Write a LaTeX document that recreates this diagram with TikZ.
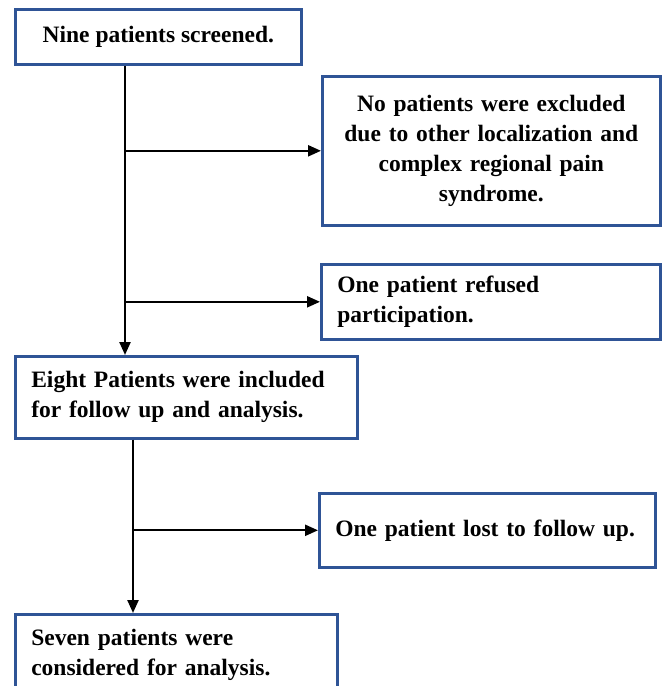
\documentclass[tikz,border=0pt]{standalone}
\usepackage{fontspec}
\setmainfont{Liberation Serif}
\usetikzlibrary{arrows.meta,positioning}
\definecolor{boxblue}{RGB}{47,84,150}

\begin{document}
\begin{tikzpicture}[x=1pt,y=-1pt,
  box/.style={draw=boxblue, line width=2.6pt, fill=white, inner xsep=16pt, inner ysep=4pt,
    font=\fontsize{23.5}{30}\selectfont\bfseries, anchor=north west},
  arr/.style={-{Triangle[length=13pt,width=11pt]}, line width=2.3pt}]
\useasboundingbox (0,0) rectangle (662,686);
\clip (0,0) rectangle (662,686);
% boxes down the left side
\node[box, minimum width=286, minimum height=55] (screen) at (14,8) {Nine patients screened.};
\node[box, text width=310, minimum height=82, align=left] (incl) at (14,355)
  {Eight Patients were included\\for follow up and analysis.};
\node[box, text width=290, minimum height=82, align=left] (final) at (14,613)
  {Seven patients were\\considered for analysis.};
% boxes on the right
\node[box, text width=306, minimum height=149, align=center] (excl) at (321,75)
  {No patients were excluded\\due to other localization and\\complex regional pain\\syndrome.};
\node[box, text width=307, minimum height=75, align=left] (refuse) at (320,263)
  {One patient refused\\participation.};
\node[box, text width=304, minimum height=74, align=left] (lost) at (318,492)
  {One patient lost to follow up.};
% trunks
\coordinate (trunkA) at (125,0);
\coordinate (trunkB) at (133,0);
\draw[arr] (screen.south -| trunkA) -- (incl.north -| trunkA);
\draw[arr] (trunkA |- excl.west) -- (excl.west);
\draw[arr] (trunkA |- refuse.west) -- (refuse.west);
\draw[arr] (incl.south -| trunkB) -- (final.north -| trunkB);
\draw[arr] (trunkB |- lost.west) -- (lost.west);
\end{tikzpicture}
\end{document}
